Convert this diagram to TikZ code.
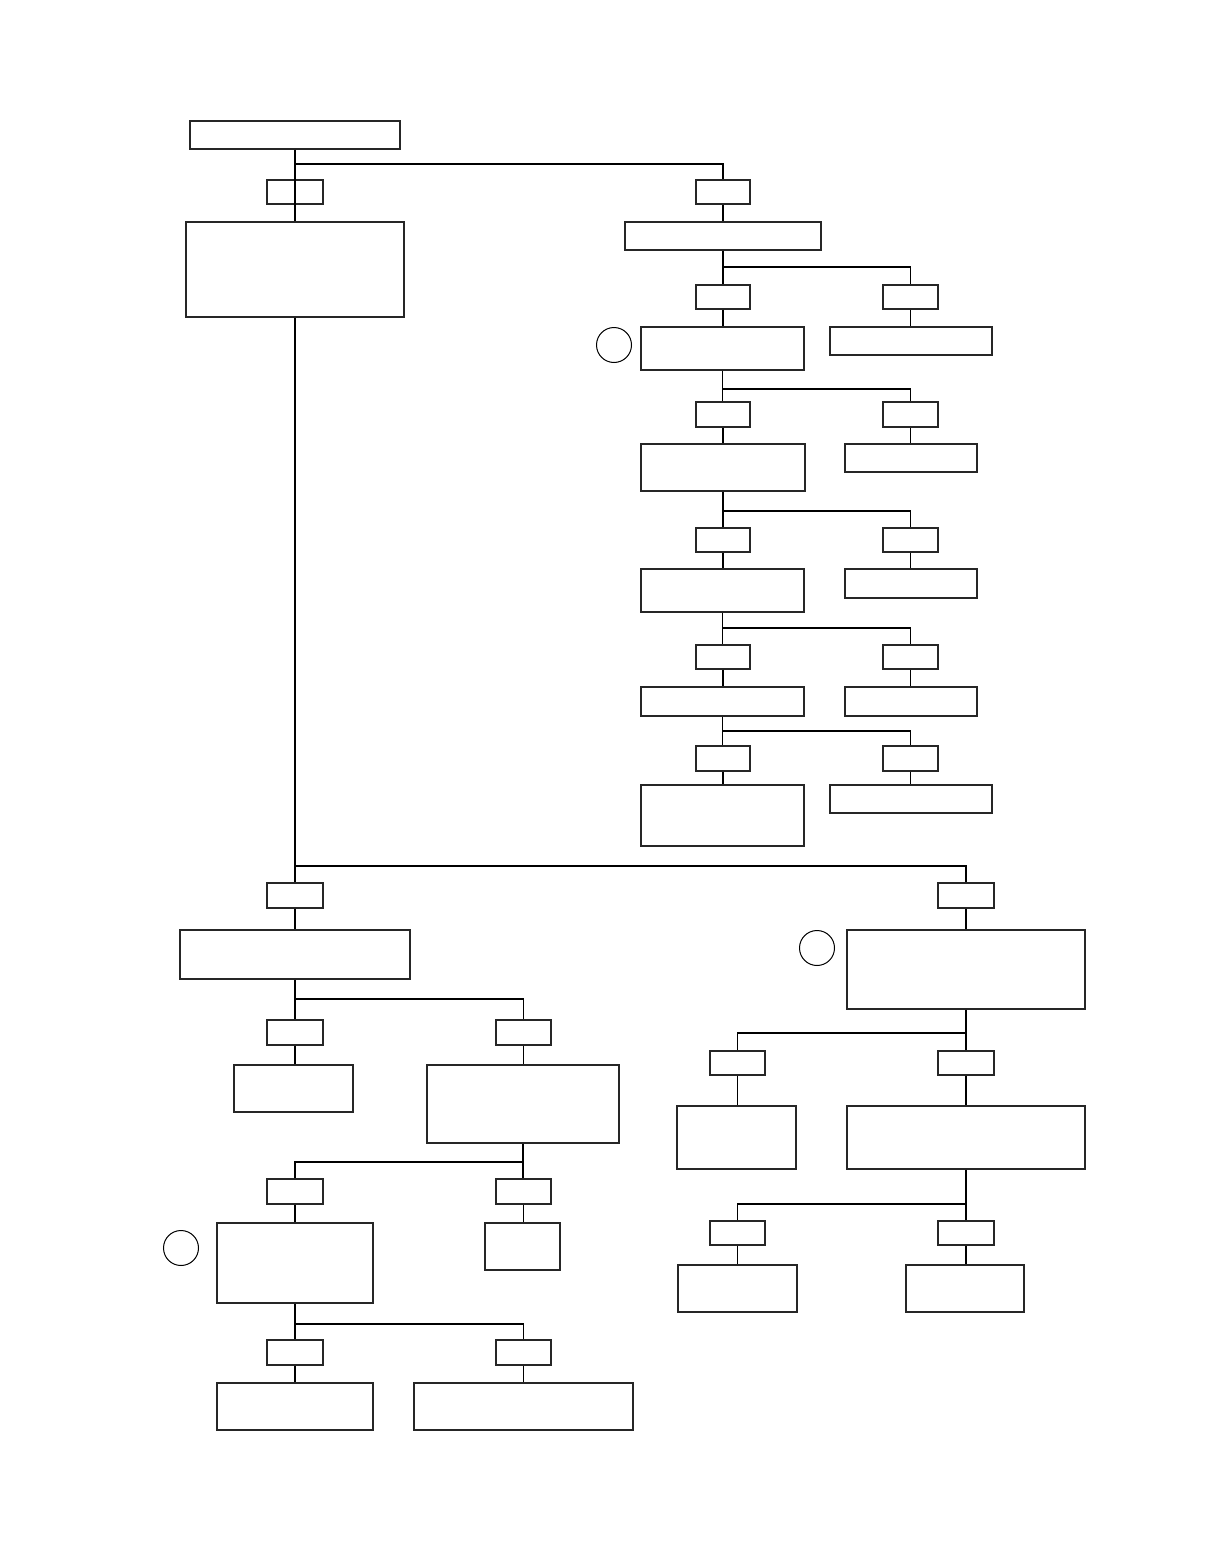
\documentclass[tikz,border=0pt]{standalone}
\usetikzlibrary{fit}
\tikzset{
  box/.style={draw=black!85, inner sep=0pt, line width=0.55pt, fit={#1}},
  conn/.style={draw, line width=0.55pt},
  mark circ/.style={draw, circle, minimum size=17.5pt, inner sep=0pt, line width=0.5pt}
}
\newcommand\bx[5]{\node[box={(#2,#3) (#4,#5)}] (#1) {};}
% vertical link from upper node to lower node, kept vertical at the upper node's x
\newcommand\vl[2]{\draw[conn] (#1.south) -- (#1.south |- #2.north);}
\newcommand\vu[2]{\draw[conn] (#2.north |- #1.south) -- (#2.north);}
\begin{document}
\begin{tikzpicture}[x=0.5pt, y=-0.5pt]
\useasboundingbox (0,0) rectangle (1210,1568);
% top
\bx{a0}{190}{121}{400}{149}
\bx{la}{267}{180}{323}{204}
\bx{b1}{186}{222}{404}{317}
\bx{lr}{696}{180}{750}{204}
\bx{r1}{625}{222}{821}{250}
% right column
\bx{l2a}{696}{285}{750}{309}
\bx{l2b}{883}{285}{938}{309}
\bx{r2}{641}{327}{804}{370}
\bx{r2b}{830}{327}{992}{355}
\bx{l3a}{696}{402}{750}{427}
\bx{l3b}{883}{402}{938}{427}
\bx{r3}{641}{444}{805}{491}
\bx{r3b}{845}{444}{977}{472}
\bx{l4a}{696}{528}{750}{552}
\bx{l4b}{883}{528}{938}{552}
\bx{r4}{641}{569}{804}{612}
\bx{r4b}{845}{569}{977}{598}
\bx{l5a}{696}{645}{750}{669}
\bx{l5b}{883}{645}{938}{669}
\bx{r5}{641}{687}{804}{716}
\bx{r5b}{845}{687}{977}{716}
\bx{l6a}{696}{746}{750}{771}
\bx{l6b}{883}{746}{938}{771}
\bx{r6}{641}{785}{804}{846}
\bx{r6b}{830}{785}{992}{813}
\node[mark circ] (k1) at (614,345) {};
% lower left
\bx{lc}{267}{883}{323}{908}
\bx{c1}{180}{930}{410}{979}
\bx{lc2}{267}{1020}{323}{1045}
\bx{lc3}{496}{1020}{551}{1045}
\bx{c2}{234}{1065}{353}{1112}
\bx{c3}{427}{1065}{619}{1143}
\bx{lc4}{267}{1179}{323}{1204}
\bx{lc5}{496}{1179}{551}{1204}
\bx{c4}{217}{1223}{373}{1303}
\bx{c5}{485}{1223}{560}{1270}
\node[mark circ] (k3) at (181,1248) {};
\bx{lc6}{267}{1340}{323}{1365}
\bx{lc7}{496}{1340}{551}{1365}
\bx{c6}{217}{1383}{373}{1430}
\bx{c7}{414}{1383}{633}{1430}
% lower right
\bx{ld}{938}{883}{994}{908}
\bx{d1}{847}{930}{1085}{1009}
\node[mark circ] (k2) at (817,948) {};
\bx{ld2}{710}{1051}{765}{1075}
\bx{ld3}{938}{1051}{994}{1075}
\bx{d2}{677}{1106}{796}{1169}
\bx{d3}{847}{1106}{1085}{1169}
\bx{ld4}{710}{1221}{765}{1245}
\bx{ld5}{938}{1221}{994}{1245}
\bx{d4}{678}{1265}{797}{1312}
\bx{d5}{906}{1265}{1024}{1312}
% junctions
\coordinate (j0) at (a0.south |- 0,164);
\coordinate (j1) at (r1.south |- 0,267);
\coordinate (j2) at (r2.south |- 0,389);
\coordinate (j3) at (r3.south |- 0,511);
\coordinate (j4) at (r4.south |- 0,628);
\coordinate (j5) at (r5.south |- 0,731);
\coordinate (jm) at (b1.south |- 0,866);
\coordinate (jc1) at (c1.south |- 0,999);
\coordinate (jc3) at (c3.south |- 0,1162);
\coordinate (jc4) at (c4.south |- 0,1324);
\coordinate (jd1) at (d1.south |- 0,1033);
\coordinate (jd3) at (d3.south |- 0,1204);
% connectors
\vl{a0}{la}
\vl{a0}{b1}
\draw[conn] (j0) -| (lr.north);
\vl{lr}{r1}
\vl{r1}{l2a}
\draw[conn] (j1) -| (l2b.north);
\vl{l2a}{r2}
\vl{l2b}{r2b}
\vl{r2}{l3a}
\draw[conn] (j2) -| (l3b.north);
\vl{l3a}{r3}
\vl{l3b}{r3b}
\vl{r3}{l4a}
\draw[conn] (j3) -| (l4b.north);
\vl{l4a}{r4}
\vl{l4b}{r4b}
\vl{r4}{l5a}
\draw[conn] (j4) -| (l5b.north);
\vl{l5a}{r5}
\vl{l5b}{r5b}
\vl{r5}{l6a}
\draw[conn] (j5) -| (l6b.north);
\vl{l6a}{r6}
\vl{l6b}{r6b}
% main trunk
\vl{b1}{lc}
\draw[conn] (jm) -| (ld.north);
\vl{lc}{c1}
\vl{c1}{lc2}
\draw[conn] (jc1) -| (lc3.north);
\vl{lc2}{c2}
\vl{lc3}{c3}
\vl{c3}{lc5}
\draw[conn] (jc3) -| (lc4.north);
\vl{lc4}{c4}
\vl{lc5}{c5}
\vl{c4}{lc6}
\draw[conn] (jc4) -| (lc7.north);
\vl{lc6}{c6}
\vl{lc7}{c7}
% right lower
\vl{ld}{d1}
\vl{d1}{ld3}
\draw[conn] (jd1) -| (ld2.north);
\vl{ld2}{d2}
\vl{ld3}{d3}
\vl{d3}{ld5}
\draw[conn] (jd3) -| (ld4.north);
\vl{ld4}{d4}
\vl{ld5}{d5}
\end{tikzpicture}
\end{document}
